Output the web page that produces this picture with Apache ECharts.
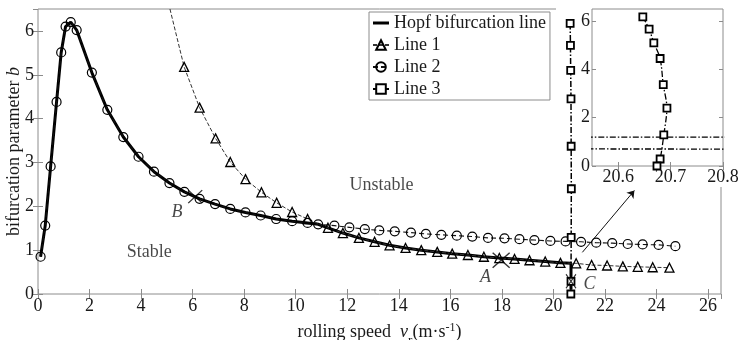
<!DOCTYPE html>
<html><head><meta charset="utf-8">
<script src="https://cdn.jsdelivr.net/npm/echarts@6/dist/echarts.min.js"></script>
<style>html,body{margin:0;padding:0;background:#fff}#c{width:738px;height:340px}</style>
</head><body><div id="c"></div>
<script>
// ---------------- data ----------------
const hopfX = [0.1,0.28,0.49,0.72,0.9,1.07,1.27,1.5,2.09,2.69,3.31,3.9,4.5,5.1,5.68,6.27,6.87,7.46,8.05,8.64,9.24,9.86,10.46,10.87,11.25,11.83,12.45,13.06,13.64,14.26,14.87,15.49,16.07,16.68,17.3,17.9,18.49,19.07,19.68,20.27,20.68,20.68];
const hopfY = [0.85,1.56,2.91,4.38,5.51,6.1,6.2,6.02,5.05,4.2,3.58,3.13,2.79,2.53,2.33,2.17,2.05,1.94,1.86,1.79,1.71,1.66,1.62,1.59,1.51,1.39,1.28,1.19,1.11,1.05,1.0,0.96,0.92,0.89,0.85,0.82,0.8,0.77,0.74,0.71,0.7,0.1];

// Line 1 (first value: where the curve leaves the top of the frame)
const line1X = [5.12,5.67,6.27,6.89,7.46,8.05,8.67,9.26,9.86,10.46,11.25,11.83,12.45,13.06,13.64,14.26,14.87,15.49,16.07,16.68,17.3,17.9,18.49,19.07,19.68,20.27,20.88,21.48,22.08,22.69,23.27,23.85,24.5];
const line1Y = [6.5,5.18,4.25,3.55,3.01,2.62,2.32,2.08,1.87,1.71,1.51,1.39,1.28,1.19,1.11,1.05,1.0,0.96,0.92,0.89,0.85,0.82,0.8,0.77,0.74,0.71,0.7,0.66,0.65,0.63,0.62,0.61,0.6];

const line2X = [0.1,0.28,0.49,0.72,0.9,1.07,1.27,1.5,2.09,2.69,3.31,3.9,4.5,5.1,5.68,6.27,6.87,7.46,8.05,8.64,9.24,9.86,10.46,10.87,11.5,12.08,12.68,13.24,13.84,14.47,15.05,15.65,16.25,16.85,17.46,18.1,18.68,19.26,19.88,20.47,21.07,21.66,22.28,22.88,23.46,24.08,24.73];
const line2Y = [0.85,1.56,2.91,4.38,5.51,6.1,6.2,6.02,5.05,4.2,3.58,3.13,2.79,2.53,2.33,2.17,2.05,1.94,1.86,1.79,1.71,1.66,1.62,1.59,1.56,1.52,1.48,1.45,1.43,1.40,1.37,1.35,1.33,1.31,1.28,1.27,1.25,1.23,1.21,1.2,1.19,1.17,1.16,1.14,1.13,1.12,1.09];

const line3X = [20.647,20.659,20.668,20.68,20.686,20.693,20.687,20.68,20.674];
const line3Y = [6.17,5.67,5.1,4.45,3.37,2.4,1.29,0.29,0];

const seriesNames = ['Hopf bifurcation line','Line 1','Line 2','Line 3'];

// named points A, B, C
const pointNames = ['A','B','C'];
const pointX = [17.97,6.1,20.68];
const pointY = [0.77,2.22,0.29];

// text annotations (data coordinates)
const noteTexts = ['Stable','Unstable','B','A','C'];
const noteX = [4.32,13.33,5.39,17.36,21.4];
const noteY = [0.95,2.49,1.87,0.39,0.23];

// arrow towards the inset (data coordinates)
const arrowFrom = [21.12,0.95];
const arrowTo = [23.14,2.36];

// axes
const mainXTicks = [0,2,4,6,8,10,12,14,16,18,20,22,24,26];
const mainYTicks = [0,1,2,3,4,5,6];
const insetXTicks = [20.6,20.7,20.8];
const insetYTicks = [0,2,4,6];

// ---------------- chart ----------------
const FONT = 'Liberation Serif';
const AX = '#8c8c8c';
const TXT = '#1a1a1a';
const zip = (xs, ys) => xs.map((x, i) => [x, ys[i]]);

const chart = echarts.init(document.getElementById('c'), null, {renderer: 'canvas'});

const tickStyle = (len, vals) => {
  const t = {show: true, inside: true, length: len, lineStyle: {color: AX}};
  if (vals) t.customValues = vals;
  return t;
};

const option = {
  backgroundColor: '#fff',
  animation: false,
  textStyle: {fontFamily: FONT},
  grid: [
    {left: 38, right: 17, top: 9, bottom: 46, show: true, borderColor: AX, borderWidth: 1,
     backgroundColor: 'transparent', z: 0, outerBoundsMode: 'none', containLabel: false},
    {left: 592, top: 9, width: 131, height: 157, show: true, borderColor: AX, borderWidth: 1,
     backgroundColor: '#fff', z: 5, outerBoundsMode: 'none', containLabel: false}
  ],
  xAxis: [
    {
      type: 'value', gridIndex: 0, position: 'bottom', min: 0, max: 26.5, interval: 2,
      axisLine: {show: false}, splitLine: {show: false},
      axisTick: tickStyle(5, mainXTicks),
      axisLabel: {margin: 3, fontSize: 18, fontFamily: FONT, color: TXT, customValues: mainXTicks},
      name: '{t|rolling speed  }{it|v}{sub|r}{t|(m·s}{sup|-1}{t|)}',
      nameLocation: 'middle', nameGap: 24, nameMoveOverlap: false,
      nameTextStyle: {rich: {
        t: {fontSize: 18, fontFamily: FONT, color: TXT},
        it: {fontSize: 18, fontFamily: FONT, fontStyle: 'italic', color: TXT},
        sub: {fontSize: 13, fontFamily: FONT, color: TXT, padding: [16, 0, 0, 0]},
        sup: {fontSize: 12, fontFamily: FONT, color: TXT, padding: [0, 0, 10, 0]}
      }}
    },
    {
      type: 'value', gridIndex: 0, position: 'top', min: 0, max: 26.5, interval: 2,
      axisLine: {show: false}, splitLine: {show: false},
      axisTick: tickStyle(5), axisLabel: {show: false}
    },
    {
      type: 'value', gridIndex: 1, position: 'bottom', min: 20.55, max: 20.8, z: 5,
      axisLine: {show: false}, splitLine: {show: false},
      axisTick: tickStyle(4, insetXTicks),
      axisLabel: {margin: 2, fontSize: 18, fontFamily: FONT, color: TXT, customValues: insetXTicks,
        formatter: v => v.toFixed(1)}
    },
    {
      type: 'value', gridIndex: 1, position: 'top', min: 20.55, max: 20.8, z: 5,
      axisLine: {show: false}, splitLine: {show: false},
      axisTick: tickStyle(4, insetXTicks), axisLabel: {show: false}
    }
  ],
  yAxis: [
    {
      type: 'value', gridIndex: 0, position: 'left', min: 0, max: 6.5, interval: 1,
      axisLine: {show: false}, splitLine: {show: false},
      axisTick: tickStyle(5, mainYTicks),
      axisLabel: {margin: 4, fontSize: 18, fontFamily: FONT, color: TXT, customValues: mainYTicks},
      name: '{t|bifurcation parameter }{it|b}',
      nameLocation: 'middle', nameGap: 15, nameRotate: 90, nameMoveOverlap: false,
      nameTextStyle: {rich: {
        t: {fontSize: 18, fontFamily: FONT, color: TXT},
        it: {fontSize: 18, fontFamily: FONT, fontStyle: 'italic', color: TXT}
      }}
    },
    {
      type: 'value', gridIndex: 0, position: 'right', min: 0, max: 6.5, interval: 1,
      axisLine: {show: false}, splitLine: {show: false},
      axisTick: tickStyle(5), axisLabel: {show: false}
    },
    {
      type: 'value', gridIndex: 1, position: 'left', min: 0, max: 6.5, interval: 2, z: 5,
      axisLine: {show: false}, splitLine: {show: false},
      axisTick: tickStyle(4, insetYTicks),
      axisLabel: {margin: 2, fontSize: 18, fontFamily: FONT, color: TXT, customValues: insetYTicks}
    },
    {
      type: 'value', gridIndex: 1, position: 'right', min: 0, max: 6.5, interval: 2, z: 5,
      axisLine: {show: false}, splitLine: {show: false},
      axisTick: tickStyle(4, insetYTicks), axisLabel: {show: false}
    }
  ],
  legend: {
    data: [{name: seriesNames[0], icon: 'path://M0,0H16V3H0Z'}, seriesNames[1], seriesNames[2], seriesNames[3]],
    orient: 'vertical', left: 369, top: 12,
    itemWidth: 16, itemHeight: 12, itemGap: 4, itemTextGap: 3,
    padding: [2, 4, 2, 3], symbolKeepAspect: true,
    borderColor: AX, borderWidth: 1, backgroundColor: '#fff',
    textStyle: {fontFamily: FONT, fontSize: 18, color: TXT, lineHeight: 18},
    z: 4
  },
  graphic: [
    {type: 'rect', shape: {x: 556, y: 0, width: 167, height: 187}, style: {fill: '#fff'}, z: 1, silent: true}
  ],
  series: [
    {
      name: seriesNames[0], type: 'line', xAxisIndex: 0, yAxisIndex: 0,
      data: zip(hopfX, hopfY), showSymbol: false, symbol: 'none', smooth: false,
      lineStyle: {color: '#000', width: 3}, itemStyle: {color: '#000'}, z: 3
    },
    {
      name: seriesNames[1], type: 'line', xAxisIndex: 0, yAxisIndex: 0,
      data: zip(line1X, line1Y).map((p, i) => i === 0 ? {value: p, symbol: 'none'} : p),
      symbol: 'triangle', symbolSize: 9,
      lineStyle: {color: '#333', width: 1, type: [4, 2]},
      itemStyle: {color: 'rgba(255,255,255,0)', borderColor: '#000', borderWidth: 1.3}, z: 4
    },
    {
      name: seriesNames[2], type: 'line', xAxisIndex: 0, yAxisIndex: 0,
      data: zip(line2X, line2Y),
      symbol: 'circle', symbolSize: 9,
      lineStyle: {color: '#111', width: 1.1, type: [5, 3]},
      itemStyle: {color: 'rgba(255,255,255,0)', borderColor: '#000', borderWidth: 1.2}, z: 4
    },
    {
      name: seriesNames[3], type: 'line', xAxisIndex: 0, yAxisIndex: 0,
      data: zip(line3X, line3Y),
      symbol: 'rect', symbolSize: 7,
      lineStyle: {color: '#000', width: 1.5, type: [6, 2, 1.5, 2]},
      itemStyle: {color: '#fff', borderColor: '#000', borderWidth: 1.8}, z: 4
    },
    {
      name: 'points', type: 'scatter', xAxisIndex: 0, yAxisIndex: 0,
      data: pointNames.map((n, i) => ({name: n, value: [pointX[i], pointY[i]],
        symbolSize: n === 'C' ? [10, 14] : (n === 'A' ? [17, 15] : [14, 13])})),
      symbol: 'path://M0,0L10,10M10,0L0,10',
      itemStyle: {color: 'none', borderColor: '#000', borderWidth: 1.3}, z: 6
    },
    {
      name: 'notes', type: 'scatter', xAxisIndex: 0, yAxisIndex: 0,
      data: noteTexts.map((t, i) => ({name: t, value: [noteX[i], noteY[i]],
        label: {fontStyle: t.length === 1 ? 'italic' : 'normal'}})),
      symbol: 'circle', symbolSize: 1, itemStyle: {color: 'rgba(0,0,0,0)'},
      label: {show: true, position: 'inside', formatter: p => p.name,
        fontFamily: FONT, fontSize: 18, color: TXT}, z: 6
    },
    {
      name: 'arrow', type: 'lines', coordinateSystem: 'cartesian2d', xAxisIndex: 0, yAxisIndex: 0,
      data: [{coords: [arrowFrom, arrowTo]}],
      symbol: ['none', 'arrow'], symbolSize: 7,
      lineStyle: {color: '#111', width: 1, opacity: 1}, z: 6
    },
    // inset
    {
      name: 'Line 1 (inset)', type: 'line', xAxisIndex: 2, yAxisIndex: 2,
      data: zip(line1X, line1Y), showSymbol: false, symbol: 'none', clip: true,
      lineStyle: {color: '#000', width: 1.3, type: [6, 2, 1.5, 2]}, z: 6
    },
    {
      name: 'Line 2 (inset)', type: 'line', xAxisIndex: 2, yAxisIndex: 2,
      data: zip(line2X, line2Y), showSymbol: false, symbol: 'none', clip: true,
      lineStyle: {color: '#000', width: 1.3, type: [6, 2, 1.5, 2]}, z: 6
    },
    {
      name: 'Line 3 (inset)', type: 'line', xAxisIndex: 2, yAxisIndex: 2,
      data: zip(line3X, line3Y), symbol: 'rect', symbolSize: 7, clip: true, smooth: 0.3,
      lineStyle: {color: '#000', width: 1.3, type: [6, 2, 1.5, 2]},
      itemStyle: {color: '#fff', borderColor: '#000', borderWidth: 1.8}, z: 7
    }
  ]
};
chart.setOption(option);
</script>
</body></html>
